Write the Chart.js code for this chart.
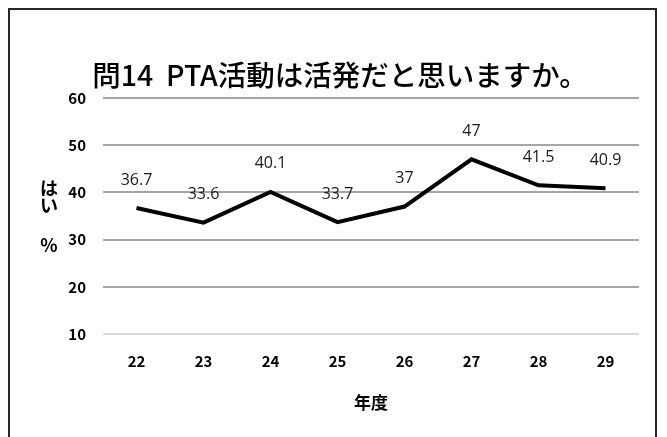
<!DOCTYPE html>
<html>
<head>
<meta charset="utf-8">
<script src="https://cdn.jsdelivr.net/npm/chart.js@4"></script>
<style>
  html, body { margin: 0; padding: 0; background: #fff; }
  #wrap { position: relative; width: 667px; height: 437px; }
  #frame {
    position: absolute; left: 8px; top: 8px; width: 649px; height: 440px;
    border: 2px solid #262626; box-sizing: border-box; pointer-events: none;
  }
</style>
</head>
<body>
<div id="wrap">
  <canvas id="chart" width="667" height="437"></canvas>
  <div id="frame"></div>
</div>
<script>
const years = ['22', '23', '24', '25', '26', '27', '28', '29'];
const yesPercent = [36.7, 33.6, 40.1, 33.7, 37, 47, 41.5, 40.9];
const yTicks = [10, 20, 30, 40, 50, 60];
const titleText = '問14  PTA活動は活発だと思いますか。';
const yTitle = ['は', 'い', '%'];
const xTitle = '年度';

const jpFont = "'Noto Sans CJK JP', 'Noto Sans', sans-serif";

// タイトル、ラベル、Y軸タイトルを描く
const labelPlugin = {
  id: 'labels',
  afterDatasetsDraw(chart) {
    const ctx = chart.ctx;
    const meta = chart.getDatasetMeta(0);
    ctx.save();
    ctx.textAlign = 'center';
    ctx.textBaseline = 'middle';

    ctx.fillStyle = '#000';
    ctx.font = '500 28.5px ' + jpFont;
    ctx.fillText(titleText, 340, 75);

    ctx.fillStyle = '#1a1a1a';
    ctx.font = "16px 'Open Sans', 'Noto Sans', sans-serif";
    meta.data.forEach((pt, i) => {
      ctx.fillText(String(yesPercent[i]), pt.x, pt.y - 28);
    });

    // 縦書きのY軸タイトル
    const y = chart.scales.y;
    ctx.fillStyle = '#000';
    ctx.font = 'bold 18px ' + jpFont;
    ctx.fillText(yTitle[0], 49, y.getPixelForValue(41));
    ctx.fillText(yTitle[1], 49, y.getPixelForValue(37.4));
    ctx.fillText(yTitle[2], 49, y.getPixelForValue(28.8));
    ctx.restore();
  }
};

new Chart(document.getElementById('chart'), {
  type: 'line',
  data: {
    labels: years,
    datasets: [{
      data: yesPercent,
      borderColor: '#000',
      borderWidth: 4,
      pointRadius: 0,
      tension: 0,
      fill: false
    }]
  },
  options: {
    responsive: false,
    animation: false,
    layout: { padding: { left: 21, right: 28, top: 98, bottom: 0 } },
    plugins: {
      legend: { display: false },
      tooltip: { enabled: false },
      title: { display: false }
    },
    scales: {
      x: {
        offset: true,
        grid: { display: false, drawTicks: false },
        border: { display: false },
        ticks: {
          color: '#000',
          font: { family: jpFont, size: 15, weight: 'bold' },
          padding: 18
        },
        title: {
          display: true,
          text: xTitle,
          color: '#000',
          font: { family: jpFont, size: 17, weight: 'bold' },
          padding: { top: 6, bottom: 24 }
        },
        afterFit(scale) { scale.height = 103; }
      },
      y: {
        min: 10,
        max: 60,
        afterBuildTicks(scale) { scale.ticks = yTicks.map(v => ({ value: v })); },
        grid: {
          drawTicks: false,
          lineWidth: 2,
          color: ctx => ctx.tick && ctx.tick.value === 10 ? '#d9d9d9' : '#a6a6a6'
        },
        border: { display: false },
        ticks: {
          color: '#000',
          font: { family: jpFont, size: 15, weight: 'bold' },
          padding: 17
        },
        afterFit(scale) { scale.width = 82; }
      }
    }
  },
  plugins: [labelPlugin]
});
</script>
</body>
</html>
